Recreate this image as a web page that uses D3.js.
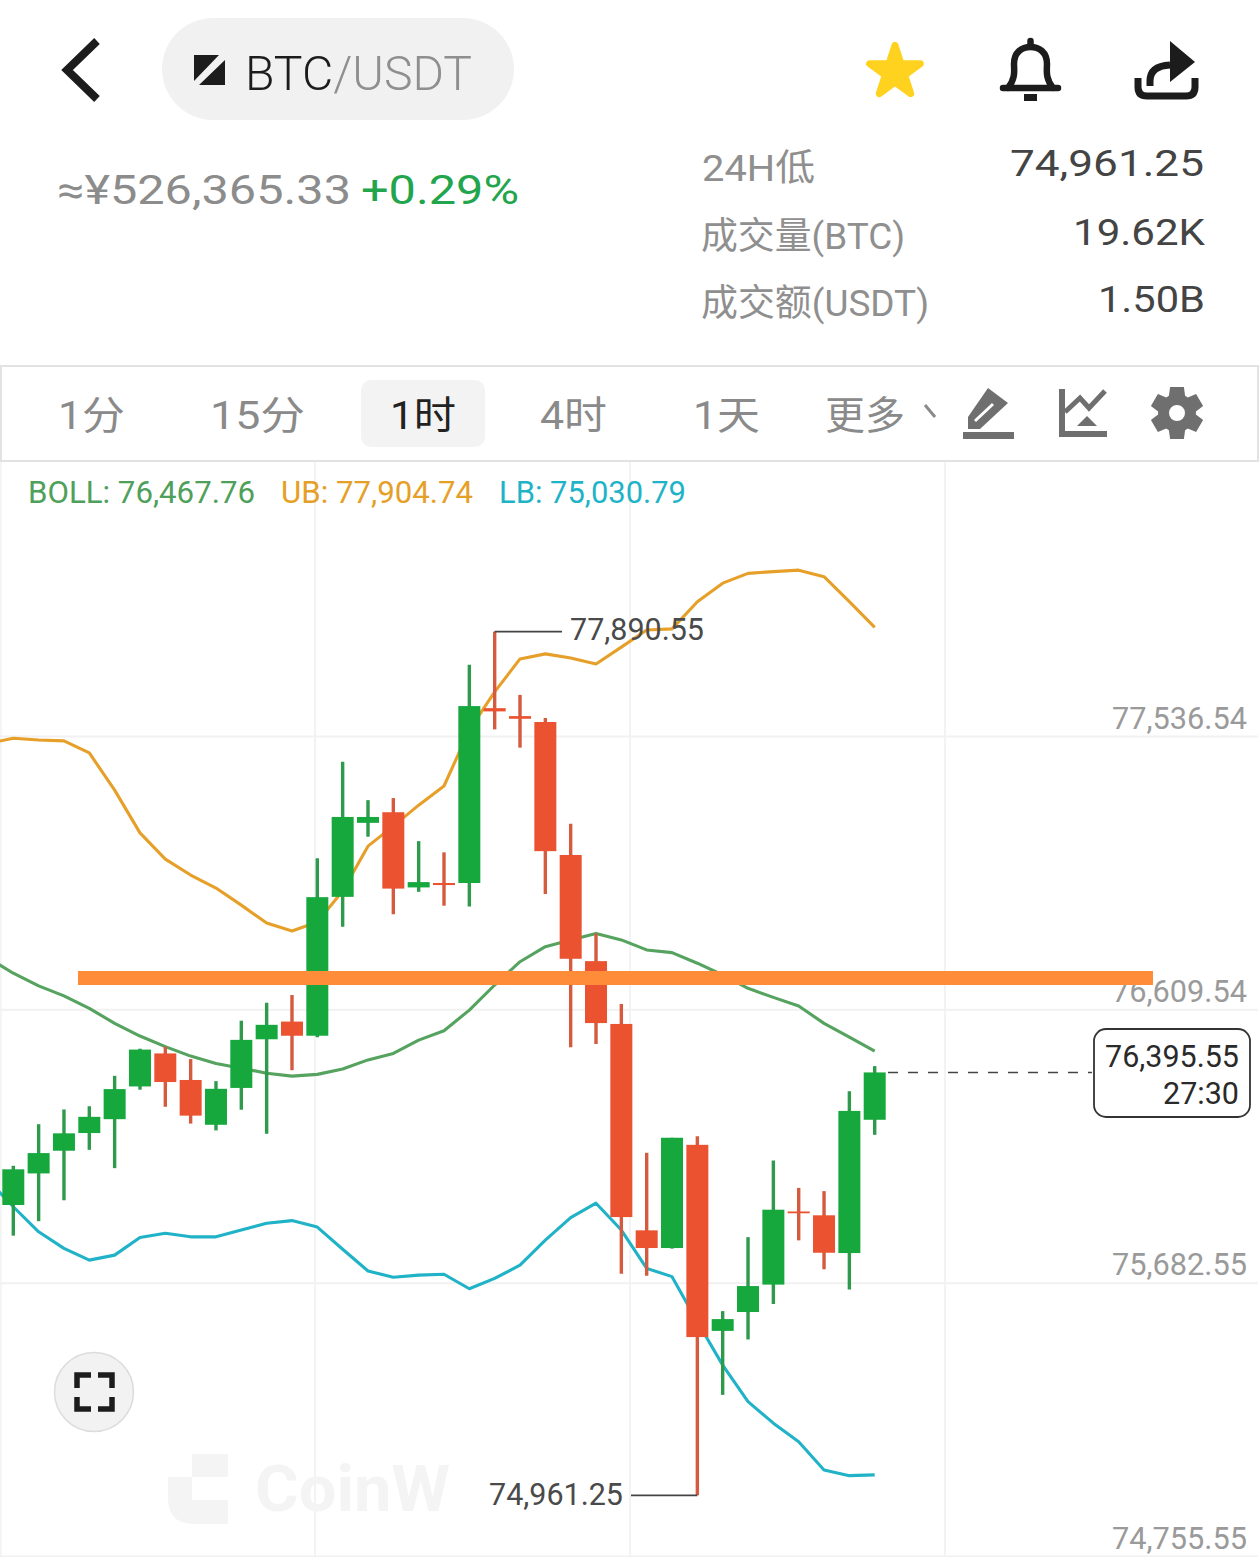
<!DOCTYPE html>
<html><head><meta charset="utf-8">
<script src="https://cdn.jsdelivr.net/npm/d3@7/dist/d3.min.js"></script>
<style>html,body{margin:0;padding:0;background:#fff}svg{display:block}text{font-family:Roboto,"Noto Sans CJK SC",sans-serif}</style>
</head><body><div id="c"></div>
<script>
// ---- candle values, oldest first ----
const opens  = [75946,76053,76130,76190,76237,76348,76460,76370,76218,76343,76508,76568,76520,76991,77242,77278,77023,77038,77038,77631,77604,77584,77133,76773,76560,75860,75800,76150,75519,75583,75676,75924,75911,75783,76235];
const highs  = [76079,76220,76270,76281,76384,76476,76483,76441,76366,76571,76632,76658,77122,77449,77319,77326,77180,77142,77778,77890.55,77676,77598,77239,76867,76628,76123,76174,76179,75586,75837,76097,76004,75993,76332,76417];
const lows   = [75842,75891,75962,76133,76071,76337,76279,76222,76199,76269,76188,76403,76515,76890,77195,76932,77008,76961,76958,77559,77497,77001,76481,76492,75713,75706,75798,74961.25,75302,75490,75610,75826,75728,75659,76184];
const closes = [76067,76122,76189,76245,76339,76473,76363,76249,76340,76506,76557,76520,76990,77262,77262,77019,77041,77031,77638,77620,77595,77146,76781,76563,75905,75800,76174,75498,75559,75671,75930,75920,75784,76265,76395.55];
// ---- Bollinger series; first value is one candle left of the window ----
const ubValues = [77511,77529,77523,77520,77479,77353,77208,77119,77065,77021,76963,76902,76875,76906,77011,77163,77231,77302,77367,77557,77686,77798,77815,77801,77781,77838,77896,77900,77992,78055,78088,78094,78099,78077,77992,77904.74];
const mbValues = [76784,76732,76689,76655,76613,76562,76519,76483,76451,76426,76410,76393,76383,76389,76407,76438,76460,76505,76537,76607,76692,76771,76822,76845,76867,76845,76811,76802,76766,76726,76681,76650,76621,76562,76515,76467.76];
const lbValues = [76031,75940,75855,75799,75759,75776,75836,75850,75838,75838,75861,75884,75893,75871,75796,75722,75701,75708,75711,75662,75697,75742,75827,75903,75952,75861,75731,75703,75550,75403,75279,75206,75143,75047,75028,75030.79];
// ---- axis, labels ----
const priceTicks = [77536.54,76609.54,75682.55,74755.55];
const priceLabels = ["77,536.54","76,609.54","75,682.55","74,755.55"];
const timeframes = ["1分","15分","1时","4时","1天","更多"];
const statLabels = ["24H低","成交量(BTC)","成交额(USDT)"];
const statValues = ["74,961.25","19.62K","1.50B"];
const drawnLevel = 76716;

const svg = d3.select("#c").append("svg").attr("width",1260).attr("height",1557);
const x = d3.scaleLinear().domain([0,34]).range([13.3,874.7]);
const y = d3.scaleLinear().domain([74755.55,77536.54]).range([1556,736]);
const GREEN="#16a83c", RED="#ea5230", GREEN_W="#2f9a4c", RED_W="#d45a40";

function T(str,px,py,size,fill,opt={}){
  const t=svg.append("text").attr("x",px).attr("y",py).attr("font-size",size).attr("fill",fill)
    .attr("text-anchor",opt.anchor||"start").attr("font-weight",opt.weight||400).text(str);
  if(opt.width){t.attr("textLength",opt.width).attr("lengthAdjust","spacingAndGlyphs");}
  return t;
}

// ---- header ----
svg.append("path").attr("d","M97,41 L67,70 L97,99").attr("fill","none").attr("stroke","#1c1c1c").attr("stroke-width",8);
svg.append("rect").attr("x",162).attr("y",18).attr("width",352).attr("height",102).attr("rx",51).attr("fill","#f1f1f1");
svg.append("path").attr("d","M194,55 H219 L194,81 Z M225,60 V85 H199 Z").attr("fill","#1c1c1c");
const pair=svg.append("text").attr("x",245).attr("y",90).attr("font-size",48).attr("font-weight",300).attr("textLength",227).attr("lengthAdjust","spacingAndGlyphs");
pair.append("tspan").attr("fill","#1c1c1c").text("BTC");
pair.append("tspan").attr("fill","#8f8f8f").text("/USDT");
T("≈¥526,365.33",57,204,40,"#8c8c8c",{width:294});
T("+0.29%",361,204,40,"#22a54c",{width:158});
svg.append("path").attr("d",d3.symbol(d3.symbolStar,800)).attr("transform","translate(895,72)")
  .attr("fill","#ffd21f").attr("stroke","#ffd21f").attr("stroke-width",7).attr("stroke-linejoin","round");
svg.append("path").attr("d","M1003,88 H1058 M1008,88 C1016,78 1014,70 1014,64 C1014,52 1022,47 1030.5,47 C1039,47 1047,52 1047,64 C1047,70 1045,78 1053,88 M1030.5,41 V47")
  .attr("fill","none").attr("stroke","#1c1c1c").attr("stroke-width",6.5).attr("stroke-linecap","round");
svg.append("rect").attr("x",1024).attr("y",94).attr("width",13).attr("height",7).attr("fill","#1c1c1c");
svg.append("path").attr("d","M1138,78 V87 Q1138,96 1147,96 H1186 Q1195,96 1195,87 V78").attr("fill","none").attr("stroke","#1c1c1c").attr("stroke-width",7);
svg.append("path").attr("d","M1150,86 V81 Q1150,66 1170,65").attr("fill","none").attr("stroke","#1c1c1c").attr("stroke-width",7);
svg.append("path").attr("d","M1170,41 L1195,62 L1170,82 Z").attr("fill","#1c1c1c");

// ---- stats ----
[[702,181,113],[701,249,204],[701,316,228]].forEach((p,i)=>T(statLabels[i],p[0],p[1],37,"#8f8f8f",{width:p[2]}));
[[1204,176,194],[1205,245,132],[1205,312,107]].forEach((p,i)=>T(statValues[i],p[0],p[1],37,"#444",{anchor:"end",width:p[2]}));

// ---- toolbar ----
svg.append("rect").attr("x",1).attr("y",366).attr("width",1257).attr("height",95).attr("fill","#fff").attr("stroke","#e2e2e2").attr("stroke-width",2);
svg.append("rect").attr("x",361).attr("y",380).attr("width",124).attr("height",67).attr("rx",10).attr("fill","#f3f3f3");
[[58,67],[210,95],[390,66],[540,67],[693,67],[825,80]].forEach((p,i)=>T(timeframes[i],p[0],429,39,i===2?"#222":"#8a8a8a",{width:p[1]}));
svg.append("path").attr("d","M925,405 L935,417").attr("stroke","#8a8a8a").attr("stroke-width",3).attr("fill","none");
const ICON="#6f6f6f";
svg.append("path").attr("d","M988,388 L1008,403 L980,429 L968,429 L968,417 Z").attr("fill",ICON);
svg.append("path").attr("d","M975,421 L993,404").attr("stroke","#fff").attr("stroke-width",3);
svg.append("rect").attr("x",963).attr("y",432).attr("width",51).attr("height",7).attr("fill",ICON);
svg.append("path").attr("d","M1062,389 V434 H1107").attr("fill","none").attr("stroke",ICON).attr("stroke-width",6);
svg.append("path").attr("d","M1065,412 L1080,398 L1089,408 L1105,391").attr("fill","none").attr("stroke",ICON).attr("stroke-width",5);
svg.append("path").attr("d","M1087,416 L1097,426 L1077,426 Z").attr("fill",ICON);
const gearAngles=d3.range(6).map(i=>i*Math.PI/3);
let gear="";
gearAngles.forEach(a=>{
  [[-0.44,19],[-0.26,27],[0.26,27],[0.44,19]].forEach((q,j)=>{
    const px=1177+q[1]*Math.sin(a+q[0]), py=413-q[1]*Math.cos(a+q[0]);
    gear+=(gear===""?"M":"L")+px.toFixed(1)+","+py.toFixed(1);
  });
});
gear+="Z M1185,413 A8,8 0 1,0 1169,413 A8,8 0 1,0 1185,413 Z";
svg.append("path").attr("d",gear).attr("fill",ICON).attr("fill-rule","evenodd");

// ---- grid and axis ----
[315,630,945].forEach(g=>svg.append("line").attr("x1",g).attr("x2",g).attr("y1",462).attr("y2",1557).attr("stroke","#f3f3f3").attr("stroke-width",2));
svg.append("line").attr("x1",1).attr("x2",1).attr("y1",462).attr("y2",1557).attr("stroke","#f5f5f5").attr("stroke-width",2);
const axis=d3.axisRight(y).tickValues(priceTicks).tickSize(1258).tickPadding(0).tickFormat((d,i)=>priceLabels[i]);
const ag=svg.append("g").attr("transform","translate(0,0)").call(axis);
ag.select(".domain").remove();
ag.selectAll(".tick line").attr("stroke","#f1f1f1").attr("stroke-width",2);
ag.selectAll(".tick text").attr("x",1247).attr("dy",-8).attr("text-anchor","end").attr("font-size",32)
  .attr("font-family",'Roboto,sans-serif').attr("fill","#9a9a9a").attr("textLength",135).attr("lengthAdjust","spacingAndGlyphs");

// ---- watermark ----
svg.append("path").attr("d","M192,1454 H228 V1477 H192 Z M168,1477 H192 V1500 H228 V1524 H194 Q168,1524 168,1498 Z").attr("fill","#f4f4f4");
T("CoinW",255,1511,64,"#f4f4f4",{weight:700,width:195});

// ---- Bollinger ----
const chart=svg.append("g").attr("clip-path","url(#plot)");
svg.append("clipPath").attr("id","plot").append("rect").attr("x",0).attr("y",462).attr("width",1260).attr("height",1095);
const line=d3.line().x((d,i)=>x(i-1)).y(d=>y(d));
[[ubValues,"#e6a02a"],[mbValues,"#55a35f"],[lbValues,"#20b2c6"]].forEach(s=>{
  chart.append("path").attr("d",line(s[0])).attr("fill","none").attr("stroke",s[1]).attr("stroke-width",3.1).attr("stroke-linejoin","round");
});

// ---- candles ----
const idx=d3.range(opens.length);
const up=i=>closes[i]>=opens[i];
chart.selectAll("line.w").data(idx).join("line").attr("class","w")
  .attr("x1",i=>x(i)).attr("x2",i=>x(i)).attr("y1",i=>y(highs[i])).attr("y2",i=>y(lows[i]))
  .attr("stroke",i=>up(i)?GREEN_W:RED_W).attr("stroke-width",3.4);
chart.selectAll("rect.b").data(idx).join("rect").attr("class","b")
  .attr("x",i=>x(i)-11).attr("width",22)
  .attr("y",i=>y(Math.max(opens[i],closes[i])))
  .attr("height",i=>Math.max(1.8,Math.abs(y(opens[i])-y(closes[i]))))
  .attr("fill",i=>up(i)?GREEN:RED);

// ---- legend ----
T("BOLL: 76,467.76",28,503,32,"#4ea05a",{width:227});
T("UB: 77,904.74",281,503,32,"#e5a028",{width:192});
T("LB: 75,030.79",499,503,32,"#1fb3c8",{width:187});

// ---- high/low/last labels ----
const hi=d3.max(highs), lo=d3.min(lows), last=closes[closes.length-1];
const hiI=highs.indexOf(hi), loI=lows.indexOf(lo);
svg.append("line").attr("x1",x(hiI)).attr("x2",562).attr("y1",y(hi)).attr("y2",y(hi)).attr("stroke","#444").attr("stroke-width",1.8);
T(d3.format(",.2f")(hi),570,640,31,"#4a4a4a",{width:134});
svg.append("line").attr("x1",631).attr("x2",x(loI)).attr("y1",y(lo)).attr("y2",y(lo)).attr("stroke","#444").attr("stroke-width",1.8);
T(d3.format(",.2f")(lo),489,1505,31,"#4a4a4a",{width:134});
svg.append("line").attr("x1",888).attr("x2",1092).attr("y1",y(last)).attr("y2",y(last)).attr("stroke","#444").attr("stroke-width",1.6).attr("stroke-dasharray","10 10");
svg.append("rect").attr("x",1094).attr("y",1029).attr("width",156).attr("height",88).attr("rx",12).attr("fill","#fff").attr("stroke","#333").attr("stroke-width",1.8);
T(d3.format(",.2f")(last),1239,1067,31,"#2a2a2a",{anchor:"end",width:134});
T("27:30",1239,1104,31,"#2a2a2a",{anchor:"end",width:76});

// ---- hand-drawn level ----
svg.append("line").attr("x1",78).attr("x2",1153).attr("y1",y(drawnLevel)).attr("y2",y(drawnLevel)).attr("stroke","#ff8c38").attr("stroke-width",14);

// ---- fullscreen button ----
svg.append("circle").attr("cx",94).attr("cy",1392).attr("r",39.5).attr("fill","#f2f2f2").attr("stroke","#dcdcdc").attr("stroke-width",1.5);
svg.append("path").attr("d","M91,1375 H77 V1388 M98,1375 H112 V1388 M77,1397 V1409 H91 M112,1397 V1409 H98")
  .attr("fill","none").attr("stroke","#1c1c1c").attr("stroke-width",5.5);
</script></body></html>
